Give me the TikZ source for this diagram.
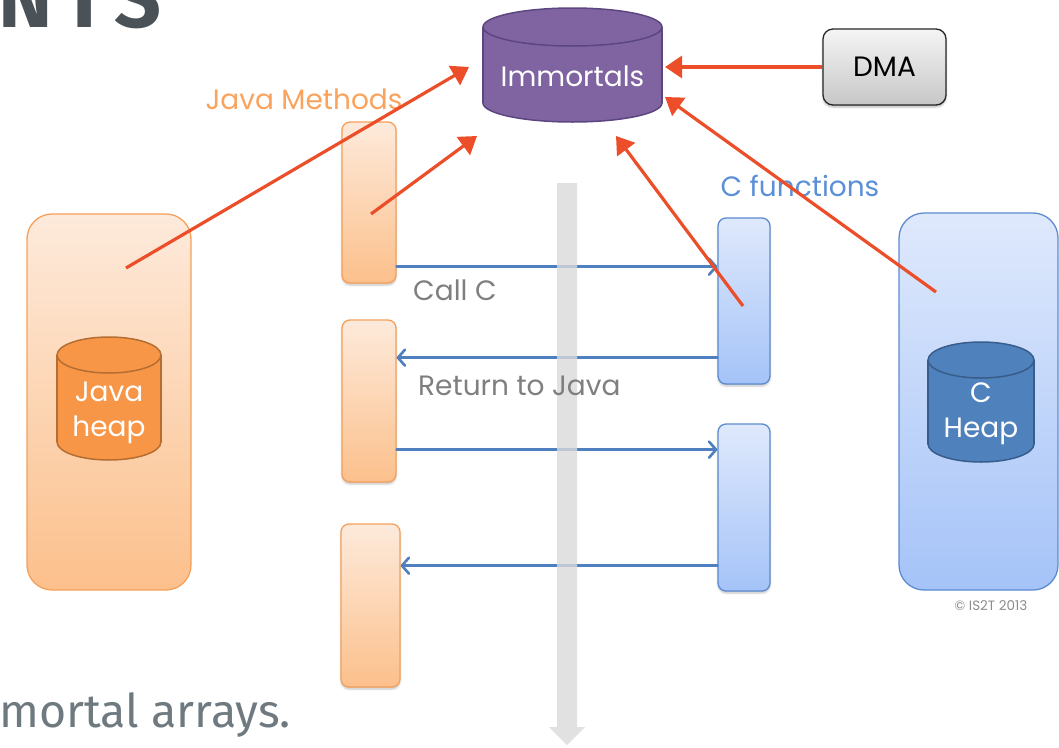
\documentclass[tikz,border=0pt]{standalone}
\usepackage{fontspec}
\setmainfont{Poppins}
\newfontfamily\slidefont{Fira Sans}
\newfontfamily\slidetitlefont[LetterSpace=12]{Fira Sans}
\usetikzlibrary{arrows.meta}
\usetikzlibrary{shadows.blur}

\definecolor{javaedge}{RGB}{245,160,90}
\definecolor{javatop}{RGB}{253,234,219}
\definecolor{javabot}{RGB}{252,192,140}
\definecolor{cedge}{RGB}{91,139,208}
\definecolor{ctop}{RGB}{223,233,252}
\definecolor{cbot}{RGB}{165,195,248}
\definecolor{jheapfill}{RGB}{247,150,70}
\definecolor{jheapedge}{RGB}{182,109,49}
\definecolor{cheapfill}{RGB}{79,129,189}
\definecolor{cheapedge}{RGB}{56,93,138}
\definecolor{immfill}{RGB}{128,100,162}
\definecolor{immedge}{RGB}{92,70,128}
\definecolor{redarrow}{RGB}{236,78,42}
\definecolor{bluearrow}{RGB}{79,127,190}
\definecolor{labelgray}{RGB}{127,127,127}
\definecolor{javalabel}{RGB}{249,163,92}
\definecolor{clabel}{RGB}{91,143,214}
\definecolor{flowgray}{RGB}{217,217,217}
\definecolor{titlegray}{RGB}{74,82,87}
\definecolor{bodygray}{RGB}{111,122,128}

\begin{document}
\begin{tikzpicture}[x=1pt,y=-1pt,
  javabox/.style={draw=javaedge, line width=1.3pt, rounded corners=8pt, top color=javatop, bottom color=javabot, inner sep=0pt,
    blur shadow={shadow xshift=0pt, shadow yshift=-2pt, shadow blur radius=2pt, shadow opacity=25}},
  cbox/.style={draw=cedge, line width=1.3pt, rounded corners=8pt, top color=ctop, bottom color=cbot, inner sep=0pt,
    blur shadow={shadow xshift=0pt, shadow yshift=-2pt, shadow blur radius=2pt, shadow opacity=25}},
  heapbox/.style={line width=1.3pt, rounded corners=25pt, inner sep=0pt},
  dmabox/.style={draw=black!85, line width=1.3pt, rounded corners=10pt, top color=black!4, bottom color=black!22, inner sep=0pt,
    font=\fontsize{28}{34}\selectfont, blur shadow={shadow xshift=0pt, shadow yshift=-2pt, shadow blur radius=2pt, shadow opacity=30}},
  celltext/.style={font=\fontsize{28}{35}\selectfont, text=white, align=center, inner sep=0pt},
  redline/.style={draw=redarrow, line width=3.2pt, -{Triangle[length=17pt,width=22pt]}},
  callline/.style={draw=bluearrow, line width=2.6pt, line cap=round, -{Straight Barb[round,length=7pt,width=16pt]}},
  plainlabel/.style={font=\fontsize{28}{34}\selectfont, inner sep=0pt}]
\useasboundingbox (0,0) rectangle (1059,747);
\clip (0,0) rectangle (1059,747);

% slide text cut by the frame
\node[anchor=base east, inner sep=0pt, text=titlegray, font=\slidetitlefont\bfseries\fontsize{82}{86}\selectfont] (title) at (162,27) {NTS};
\node[anchor=base west, inner sep=0pt, text=bodygray, font=\slidefont\fontsize{46.5}{56}\selectfont] (bodyline) at (-1,727) {mortal arrays.};

% heaps
\node[heapbox, draw=javaedge, top color=javatop, bottom color=javabot, minimum width=164pt, minimum height=376pt] (jheap) at (109,402) {};
\node[heapbox, draw=cedge, top color=ctop, bottom color=cbot, minimum width=159pt, minimum height=377pt] (cheap) at (978.5,401.5) {};

% Java heap cylinder
\path[draw=jheapedge, fill=jheapfill, line width=1.5pt] (109,442) ellipse [x radius=52pt, y radius=18pt];
\fill[jheapfill] (57,355) rectangle (161,442);
\draw[jheapedge, line width=1.5pt] (57,355) -- (57,442) (161,355) -- (161,442);
\path[draw=jheapedge, fill=jheapfill, line width=1.5pt] (109,355) ellipse [x radius=52pt, y radius=18pt];
\node[celltext] (jcyl) at (109,413) {Java\\heap};

% C heap cylinder
\path[draw=cheapedge, fill=cheapfill, line width=1.5pt] (981,444) ellipse [x radius=53pt, y radius=18pt];
\fill[cheapfill] (928,360) rectangle (1034,444);
\draw[cheapedge, line width=1.5pt] (928,360) -- (928,444) (1034,360) -- (1034,444);
\path[draw=cheapedge, fill=cheapfill, line width=1.5pt] (981,360) ellipse [x radius=53pt, y radius=18pt];
\node[celltext] (ccyl) at (981,414) {C\\Heap};

% Immortals cylinder
\path[draw=immedge, fill=immfill, line width=1.5pt] (572.5,103) ellipse [x radius=89.5pt, y radius=19pt];
\fill[immfill] (483,27) rectangle (662,103);
\draw[immedge, line width=1.5pt] (483,27) -- (483,103) (662,27) -- (662,103);
\path[draw=immedge, fill=immfill, line width=1.5pt] (572.5,27) ellipse [x radius=89.5pt, y radius=19pt];
\node[celltext] (imm) at (572.5,76) {Immortals};

% DMA
\node[dmabox, minimum width=123pt, minimum height=76pt] (dma) at (884.5,67) {DMA};

% Java methods and C functions
\node[javabox, minimum width=54pt, minimum height=161pt] (jm1) at (369,202.5) {};
\node[javabox, minimum width=54pt, minimum height=162pt] (jm2) at (369,401) {};
\node[javabox, minimum width=59pt, minimum height=163pt] (jm3) at (370.5,605.5) {};
\node[cbox, minimum width=52pt, minimum height=166pt] (cf1) at (744,301) {};
\node[cbox, minimum width=52pt, minimum height=167pt] (cf2) at (744,507.5) {};

% calls and returns
\draw[callline] ([yshift=17pt]jm1.south east) -- ([yshift=17pt]jm1.south east -| cf1.west);
\draw[callline] ([yshift=27pt]cf1.south west) -- ([yshift=27pt]cf1.south west -| jm2.east);
\draw[callline] ([yshift=33pt]jm2.south east) -- ([yshift=33pt]jm2.south east -| cf2.west);
\draw[callline] ([yshift=26pt]cf2.south west) -- ([yshift=26pt]cf2.south west -| jm3.east);

% time line
\fill[flowgray, opacity=0.8] (557,183) -- (577,183) -- (577,727) -- (585,727) -- (567,745) -- (549,727) -- (557,727) -- cycle;

% labels
\node[plainlabel, text=javalabel] (jmlabel) at (304,99) {Java Methods};
\node[plainlabel, text=clabel] (cflabel) at (800,186) {C functions};
\node[plainlabel, text=labelgray, anchor=base west] (calllabel) at (413,300) {Call C};
\node[plainlabel, text=labelgray, anchor=base west] (retlabel) at (418,395) {Return to Java};
\node[inner sep=0pt, text=black!45, font=\fontsize{13.5}{15}\selectfont] (copy) at (991,606) {\textcopyright\ IS2T 2013};

% references to immortals
\coordinate (jh-src) at (126,268);
\coordinate (jm-src) at (371,214);
\coordinate (cf-src) at (743,306);
\coordinate (ch-src) at (936,292);
\coordinate (imm-a) at (469,67);
\coordinate (imm-b) at (477,136);
\coordinate (imm-c) at (616,136);
\coordinate (imm-d) at (665,97);
\draw[redline] (jh-src) -- (imm-a);
\draw[redline] (jm-src) -- (imm-b);
\draw[redline] (cf-src) -- (imm-c);
\draw[redline] (ch-src) -- (imm-d);
\draw[redline] (dma.west) -- (dma.west -| imm-d);

\end{tikzpicture}
\end{document}
